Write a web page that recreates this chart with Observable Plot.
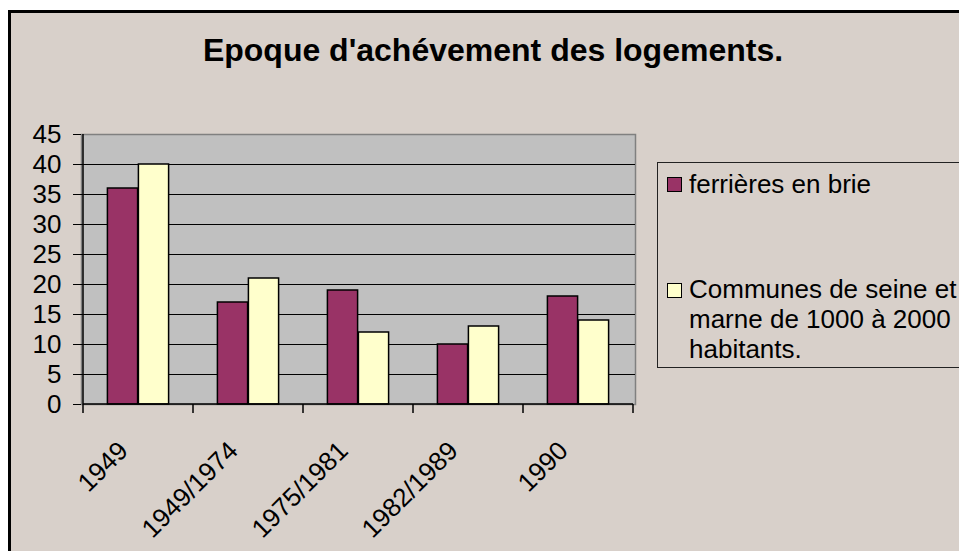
<!DOCTYPE html>
<html><head><meta charset="utf-8">
<script src="https://cdn.jsdelivr.net/npm/d3@7"></script>
<script src="https://cdn.jsdelivr.net/npm/@observablehq/plot@0.6"></script>
<style>
html,body{margin:0;padding:0;background:#fff;overflow:hidden;width:959px;height:551px}
#chart{position:relative;width:959px;height:551px;font-family:Arial,"Liberation Sans",sans-serif;color:#000;overflow:hidden}
#bg{position:absolute;left:8px;top:10px;width:1000px;height:600px;border:3px solid #000;background:#d8d0ca}
#title{position:absolute;left:0;top:32px;width:986px;text-align:center;font-weight:bold;font-size:32px;line-height:1.15}
#plot{position:absolute;left:0;top:0}
#legend{position:absolute;left:657px;top:162px;width:330px;height:204px;border:1px solid #222}
.sw{position:absolute;left:9px;width:13px;height:13px;border:1.5px solid #000}
.lt{position:absolute;left:31px;width:280px;font-size:26px;line-height:30px}
</style></head>
<body><div id="chart"><div id="bg"></div><div id="title"></div><div id="plot"></div><div id="legend"></div></div>
<script>
const title = "Epoque d'achévement des logements.";
const categories = ["1949", "1949/1974", "1975/1981", "1982/1989", "1990"];
const seriesNames = ["ferrières en brie", "Communes de seine et marne de 1000 à 2000 habitants."];
const ferrieres = [36, 17, 19, 10, 18];
const communes = [40, 21, 12, 13, 14];
const yTicks = [0, 5, 10, 15, 20, 25, 30, 35, 40, 45];
const colors = ["#993366", "#ffffcc"];

const rows = categories.flatMap((c, i) => [
  {cat: c, series: seriesNames[0], value: ferrieres[i]},
  {cat: c, series: seriesNames[1], value: communes[i]}
]);

const W = 959, H = 551, mL = 81, mR = 324, mT = 134, mB = 147;
const band = (W - mL - mR) / categories.length;
const barW = 31;

const axesMark = (index, scales) => {
  const {x, y} = scales;
  const bw = typeof x.bandwidth === "function" ? x.bandwidth() : x.bandwidth;
  const g = d3.create("svg:g").attr("stroke", "black").attr("stroke-width", 1.5);
  const xs = categories.map(c => x(c));
  xs.push(x(categories[categories.length - 1]) + bw);
  const y0 = y(0), yTop = y(45);
  g.append("line").attr("x1", xs[0]).attr("x2", xs[xs.length - 1]).attr("y1", y0).attr("y2", y0);
  g.append("line").attr("x1", xs[0]).attr("x2", xs[0]).attr("y1", yTop).attr("y2", y0);
  for (const xv of xs) g.append("line").attr("x1", xv).attr("x2", xv).attr("y1", y0).attr("y2", y0 + 9);
  return g.node();
};

const chart = Plot.plot({
  width: W, height: H,
  marginLeft: mL, marginRight: mR, marginTop: mT, marginBottom: mB,
  style: {background: "transparent", fontFamily: "Arial, 'Liberation Sans', sans-serif", fontSize: "25px", color: "black", overflow: "visible"},
  x: {domain: categories, padding: 0},
  y: {domain: [0, 45]},
  color: {domain: seriesNames, range: colors},
  marks: [
    Plot.frame({fill: "#c0c0c0", stroke: "#808080", strokeWidth: 1.5}),
    Plot.ruleY(yTicks.filter(v => v > 0 && v < 45), {stroke: "black", strokeWidth: 1.2}),
    Plot.barY(rows.filter(d => d.series === seriesNames[0]), {x: "cat", y: "value", fill: "series", stroke: "black", strokeWidth: 1.5, insetLeft: band / 2 - barW, insetRight: band / 2}),
    Plot.barY(rows.filter(d => d.series === seriesNames[1]), {x: "cat", y: "value", fill: "series", stroke: "black", strokeWidth: 1.5, insetLeft: band / 2, insetRight: band / 2 - barW}),
    axesMark,
    Plot.axisY(yTicks, {tickSize: 8, tickPadding: 12, label: null, fontSize: 26}),
    Plot.axisX({tickRotate: -45, tickSize: 0, tickPadding: 42, dx: -15, label: null, fontSize: 26})
  ]
});
document.getElementById("plot").append(chart);
document.getElementById("title").textContent = title;

const legend = d3.select("#legend");
const tops = [[14, 6], [120, 111]];
seriesNames.forEach((s, i) => {
  legend.append("div").attr("class", "sw").style("top", tops[i][0] + "px").style("background", colors[i]);
  legend.append("div").attr("class", "lt").style("top", tops[i][1] + "px").text(s);
});
</script></body></html>
